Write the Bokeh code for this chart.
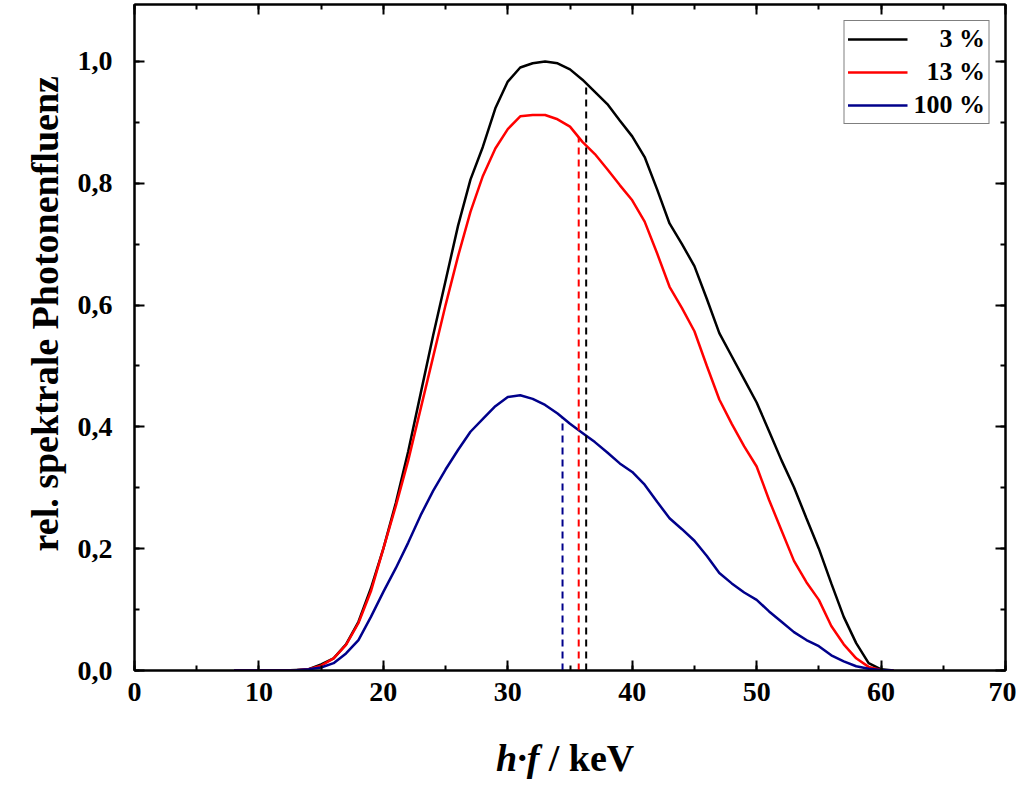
from bokeh.plotting import figure
from bokeh.models import (Legend, LegendItem, SingleIntervalTicker, LinearAxis,
                          CustomJSTickFormatter, Range1d, Title, Div)
from bokeh.layouts import column
from bokeh.embed import file_html
from bokeh.resources import INLINE

# ---------------- data ----------------
energy = list(range(8, 62))  # keV, 8 .. 61

fluence_3 = [0, 0, 0, 0, 0, 0.001, 0.002, 0.01, 0.02, 0.043, 0.08, 0.135, 0.2, 0.275,
             0.36, 0.455, 0.55, 0.64, 0.73, 0.806, 0.86, 0.923, 0.967, 0.99, 0.997,
             1.0, 0.997, 0.987, 0.97, 0.95, 0.93, 0.903, 0.877, 0.843, 0.79, 0.734,
             0.7, 0.664, 0.61, 0.554, 0.516, 0.478, 0.44, 0.393, 0.345, 0.301, 0.25,
             0.2, 0.143, 0.088, 0.045, 0.012, 0.002, 0.0]

fluence_13 = [0, 0, 0, 0, 0, 0.0005, 0.002, 0.008, 0.02, 0.042, 0.078, 0.13, 0.2, 0.27,
              0.345, 0.43, 0.515, 0.6, 0.68, 0.753, 0.812, 0.857, 0.889, 0.91, 0.912,
              0.912, 0.905, 0.893, 0.868, 0.848, 0.823, 0.797, 0.772, 0.737, 0.685,
              0.63, 0.595, 0.557, 0.5, 0.445, 0.405, 0.368, 0.335, 0.28, 0.23, 0.18,
              0.145, 0.116, 0.073, 0.043, 0.02, 0.006, 0.001, 0.0]

fluence_100 = [0, 0, 0, 0, 0, 0.0005, 0.002, 0.005, 0.012, 0.028, 0.05, 0.088, 0.129,
               0.168, 0.21, 0.255, 0.295, 0.33, 0.362, 0.392, 0.413, 0.434, 0.449, 0.452,
               0.446, 0.436, 0.422, 0.405, 0.39, 0.375, 0.358, 0.34, 0.326, 0.305,
               0.277, 0.25, 0.232, 0.213, 0.188, 0.16, 0.143, 0.128, 0.116, 0.097,
               0.08, 0.063, 0.05, 0.04, 0.025, 0.015, 0.007, 0.003, 0.001, 0.0]

series_labels = ["\u00a0\u00a0\u00a0\u00a03 %", "\u00a0\u00a013 %", "100 %"]
series_colors = ["#000000", "#ff0000", "#00008b"]

# mean energies (dashed markers) and their heights
mean_energy = [36.3, 35.7, 34.4]
mean_height = [0.964, 0.876, 0.415]

x_ticks_major = 10
y_ticks_major = 0.2

FONT = "Liberation Serif"

# ---------------- figure ----------------
p = figure(width=1016, height=720, output_backend="svg", toolbar_location=None,
           x_range=Range1d(0, 70), y_range=Range1d(0, 1.0935),
           min_border_left=134, min_border_right=11, min_border_top=4,
           min_border_bottom=50, background_fill_color="white",
           border_fill_color="white")
p.xgrid.visible = False
p.ygrid.visible = False
p.outline_line_color = "black"
p.outline_line_width = 2

renderers = []
for ys, c in zip([fluence_3, fluence_13, fluence_100], series_colors):
    r = p.line(energy, ys, line_color=c, line_width=2.5)
    renderers.append(r)

p.segment(x0=mean_energy, y0=[0, 0, 0], x1=mean_energy, y1=mean_height,
          line_color=series_colors, line_width=2, line_dash="7 5")

def style_axis(ax):
    ax.axis_line_width = 2
    ax.axis_line_color = "black"
    ax.major_tick_in = 10
    ax.major_tick_out = 0
    ax.minor_tick_in = 5
    ax.minor_tick_out = 0
    ax.major_tick_line_width = 2
    ax.minor_tick_line_width = 2
    ax.major_tick_line_color = "black"
    ax.minor_tick_line_color = "black"
    ax.major_label_text_font = FONT
    ax.major_label_text_font_style = "bold"
    ax.major_label_text_font_size = "28px"
    ax.major_label_text_color = "black"

xa = p.xaxis[0]
xa.ticker = SingleIntervalTicker(interval=x_ticks_major, num_minor_ticks=2)
style_axis(xa)
xa.major_label_standoff = 12

ya = p.yaxis[0]
ya.ticker = SingleIntervalTicker(interval=y_ticks_major, num_minor_ticks=2)
style_axis(ya)
ya.major_label_standoff = 22
ya.formatter = CustomJSTickFormatter(code="return tick.toFixed(1).replace('.', ',');")

blank = CustomJSTickFormatter(code="return '';")
top_ax = LinearAxis(ticker=SingleIntervalTicker(interval=x_ticks_major, num_minor_ticks=2),
                    formatter=blank)
style_axis(top_ax)
top_ax.major_label_standoff = 0
right_ax = LinearAxis(ticker=SingleIntervalTicker(interval=y_ticks_major, num_minor_ticks=2),
                      formatter=blank)
style_axis(right_ax)
right_ax.major_label_standoff = 0
p.add_layout(top_ax, "above")
p.add_layout(right_ax, "right")

# y axis title (leading no-break spaces shift the visible text upward)
ytitle = Title(text="\u00a0" * 5 + "rel. spektrale Photonenfluenz", align="center",
               offset=0, standoff=18, text_font=FONT, text_font_style="bold",
               text_font_size="38px", text_color="black")
p.add_layout(ytitle, "left")

legend = Legend(items=[LegendItem(label=l, renderers=[r])
                       for l, r in zip(series_labels, renderers)],
                location="top_right", margin=16, padding=3, spacing=3,
                glyph_width=60, glyph_height=30, label_standoff=6,
                label_text_font=FONT, label_text_font_style="bold",
                label_text_font_size="26px", label_text_color="black",
                border_line_color="black", border_line_width=1,
                background_fill_alpha=1.0)
p.add_layout(legend)

# x axis title (italic symbols + upright unit)
xlabel = Div(
    text=('<div style="font-family:\'Liberation Serif\';font-weight:bold;'
          'font-size:38px;line-height:38px;padding-left:496px;padding-top:19px;'
          'white-space:nowrap;color:black"><i>h\u00b7f</i> / keV</div>'),
    width=1016, height=65, margin=0)

layout = column(p, xlabel, spacing=0, margin=0)

open("out.html", "w").write(file_html(layout, INLINE))
